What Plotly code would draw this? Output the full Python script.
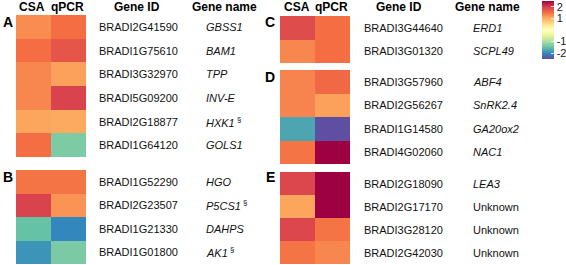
import plotly.graph_objects as go

# ---------------- data ----------------
columns = ["CSA", "qPCR"]

panel_names = ["A", "B", "C", "D", "E"]

genes_A = ["BRADI2G41590", "BRADI1G75610", "BRADI3G32970", "BRADI5G09200", "BRADI2G18877", "BRADI1G64120"]
names_A = ["GBSS1", "BAM1", "TPP", "INV-E", "HXK1 §", "GOLS1"]
csa_A = [1.26, 1.5, 1.3, 1.3, 1.07, 1.5]
qpcr_A = [1.5, 1.75, 1.1, 1.95, 1.03, -1.33]

genes_B = ["BRADI1G52290", "BRADI2G23507", "BRADI1G21330", "BRADI1G01800"]
names_B = ["HGO", "P5CS1 §", "DAHPS", "AK1 §"]
csa_B = [1.45, 1.95, -1.5, -1.9]
qpcr_B = [1.45, 1.2, -2.0, -1.35]

genes_C = ["BRADI3G44640", "BRADI3G01320"]
names_C = ["ERD1", "SCPL49"]
csa_C = [1.85, 1.3]
qpcr_C = [1.5, 1.5]

genes_D = ["BRADI3G57960", "BRADI2G56267", "BRADI1G14580", "BRADI4G02060"]
names_D = ["ABF4", "SnRK2.4", "GA20ox2", "NAC1"]
csa_D = [1.32, 1.32, -1.75, 1.45]
qpcr_D = [1.55, 1.1, -2.5, 2.5]

genes_E = ["BRADI2G18090", "BRADI2G17170", "BRADI3G28120", "BRADI2G42030"]
names_E = ["LEA3", "Unknown", "Unknown", "Unknown"]
csa_E = [1.9, 1.07, 1.9, 1.45]
qpcr_E = [2.5, 2.5, 1.45, 1.3]

colorbar_ticks = [2, 1, -1, -2]

# ---------------- styling / layout ----------------
W, H = 566, 265
spectral_r = [
    [0.0, "rgb(94,79,162)"], [0.1, "rgb(50,136,189)"], [0.2, "rgb(102,194,165)"],
    [0.3, "rgb(171,221,164)"], [0.4, "rgb(230,245,152)"], [0.5, "rgb(255,255,191)"],
    [0.6, "rgb(254,224,139)"], [0.7, "rgb(253,174,97)"], [0.8, "rgb(244,109,67)"],
    [0.9, "rgb(213,62,79)"], [1.0, "rgb(158,1,66)"],
]
FONT = "Liberation Sans, Arial, Helvetica, sans-serif"

panels = {
    "A": dict(box=(16, 86, 15, 157), idx=97, namex=204, letter=(1, 22), genes=genes_A, names=names_A, csa=csa_A, qpcr=qpcr_A),
    "B": dict(box=(16, 86, 170, 264), idx=97, namex=204, letter=(1, 177), genes=genes_B, names=names_B, csa=csa_B, qpcr=qpcr_B),
    "C": dict(box=(280, 350, 16, 63), idx=362, namex=471, letter=(263, 22), genes=genes_C, names=names_C, csa=csa_C, qpcr=qpcr_C),
    "D": dict(box=(280, 350, 70, 164), idx=362, namex=471, letter=(263, 77), genes=genes_D, names=names_D, csa=csa_D, qpcr=qpcr_D),
    "E": dict(box=(280, 350, 172, 264), idx=362, namex=471, letter=(264, 177), genes=genes_E, names=names_E, csa=csa_E, qpcr=qpcr_E),
}

def px(x):
    return x / W

def py(y):
    return 1 - y / H

fig = go.Figure()
layout = dict(
    width=W, height=H, margin=dict(l=0, r=0, t=0, b=0, autoexpand=False),
    paper_bgcolor="white", plot_bgcolor="white", showlegend=False,
    font=dict(family=FONT, color="black"),
)
annotations = []

for i, p in enumerate(panel_names):
    d = panels[p]
    n = i + 1
    xs = "" if n == 1 else str(n)
    x0, x1, y0, y1 = d["box"]
    z = [[c, q] for c, q in zip(d["csa"], d["qpcr"])]
    tr = go.Heatmap(
        z=z, x=columns, y=d["genes"], xaxis="x" + xs, yaxis="y" + xs,
        colorscale=spectral_r, zmin=-2.5, zmax=2.5, showscale=(n == 1),
        hoverinfo="skip",
    )
    if n == 1:
        tr.colorbar = dict(
            x=px(542), xanchor="left", y=py(1), yanchor="top",
            len=58 / H, lenmode="fraction", thickness=12, thicknessmode="pixels",
            outlinewidth=0, tickmode="array", tickvals=colorbar_ticks,
            ticktext=[str(t) for t in colorbar_ticks],
            ticks="inside", ticklen=3, tickcolor="rgba(255,255,255,0.8)",
            ticklabeloverflow="allow", xpad=0, ypad=0,
            tickfont=dict(size=11, family=FONT, color="#222"),
        )
    fig.add_trace(tr)
    layout["xaxis" + xs] = dict(domain=[px(x0), px(x1)], anchor="y" + xs, visible=False, fixedrange=True)
    layout["yaxis" + xs] = dict(domain=[py(y1), py(y0)], anchor="x" + xs, visible=False,
                                autorange="reversed", fixedrange=True)
    for g, nm in zip(d["genes"], d["names"]):
        annotations.append(dict(x=px(d["idx"]), xref="paper", y=g, yref="y" + xs, text=g,
                                showarrow=False, xanchor="left", yanchor="middle",
                                font=dict(size=11, family=FONT, color="#111")))
        if nm == "Unknown":
            label = nm
        elif nm.endswith(" §"):
            label = "<i>" + nm[:-2] + "</i><sup> §</sup>"
        else:
            label = "<i>" + nm + "</i>"
        annotations.append(dict(x=px(d["namex"]), xref="paper", y=g, yref="y" + xs, text=label,
                                showarrow=False, xanchor="left", yanchor="middle",
                                font=dict(size=11, family=FONT, color="#111")))
    lx, ly = d["letter"]
    annotations.append(dict(x=px(lx), xref="paper", y=py(ly), yref="paper", text="<b>" + p + "</b>",
                            showarrow=False, xanchor="left", yanchor="middle",
                            font=dict(size=14, family=FONT, color="black")))

headers = [("CSA", 32), ("qPCR", 67), ("Gene ID", 137), ("Gene name", 224),
           ("CSA", 297), ("qPCR", 332), ("Gene ID", 399), ("Gene name", 487)]
for t, cx in headers:
    annotations.append(dict(x=px(cx), xref="paper", y=py(7.5), yref="paper", text="<b>" + t + "</b>",
                            showarrow=False, xanchor="center", yanchor="middle",
                            font=dict(size=12, family=FONT, color="black")))

layout["annotations"] = annotations
fig.update_layout(**layout)
fig.write_html("out.html", config={"displayModeBar": False, "staticPlot": True},
               post_script="document.body.style.margin='0px';document.body.style.overflow='hidden';")
